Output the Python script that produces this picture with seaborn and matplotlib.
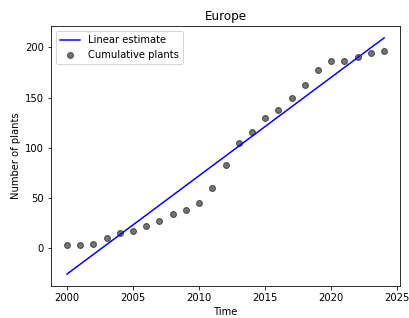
import numpy as np
import pandas as pd
import matplotlib
matplotlib.use("Agg")
import matplotlib.pyplot as plt
import seaborn as sns

years = list(range(2000, 2025))
plants = [3, 3, 4, 10, 15, 17, 22, 27, 34, 38, 45, 60, 83, 105, 116,
          130, 138, 150, 163, 178, 187, 187, 191, 195, 197]

df = pd.DataFrame({"Time": years, "Number of plants": plants})
slope, intercept = np.polyfit(df["Time"], df["Number of plants"], 1)
df["Linear estimate"] = slope * df["Time"] + intercept

plt.rcParams["font.family"] = ["DejaVu Sans"]
plt.rcParams["font.size"] = 10

fig, ax = plt.subplots(figsize=(409 / 72, 318 / 72), dpi=72)
fig.subplots_adjust(left=0.125, right=0.978, top=0.918, bottom=0.101)

sns.lineplot(data=df, x="Time", y="Linear estimate", color="blue",
             linewidth=1.5, label="Linear estimate", ax=ax)
sns.scatterplot(data=df, x="Time", y="Number of plants", color="black",
                alpha=0.55, edgecolor="black", linewidth=1.0, s=36,
                label="Cumulative plants", ax=ax)

ax.set_title("Europe")
ax.set_xlabel("Time")
ax.set_ylabel("Number of plants")
ax.legend(loc="upper left")

fig.savefig("out.png", dpi=72)
